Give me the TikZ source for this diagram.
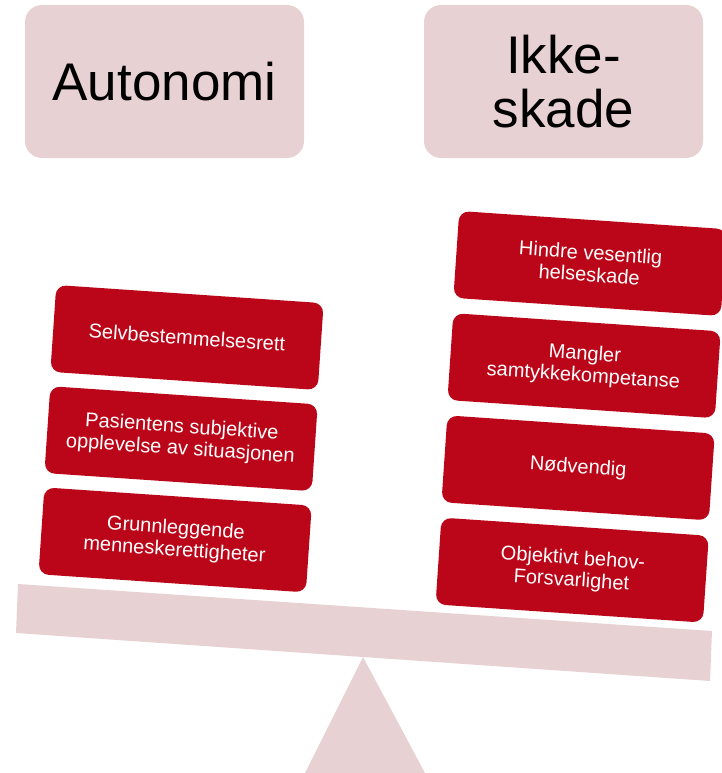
\documentclass[tikz,border=0pt]{standalone}
\usepackage{fontspec}
\setmainfont{Liberation Sans}
\usepackage{xcolor}
\usepackage{tikz}
\usetikzlibrary{positioning}

\definecolor{scalepink}{HTML}{E8D1D2}
\definecolor{scalered}{HTML}{BA0618}

\begin{document}
\begin{tikzpicture}[x=1pt, y=-1pt,
    headbox/.style={fill=scalepink, rounded corners=17pt,
      minimum width=279pt, minimum height=153pt, inner sep=0pt,
      align=center, font=\fontsize{53}{54}\selectfont},
    argbox/.style={fill=scalered, text=white, rounded corners=10pt,
      minimum width=268pt, minimum height=87pt, inner sep=0pt,
      align=center, rotate=-3.9, font=\fontsize{20}{22}\selectfont}]
  \useasboundingbox (0,0) rectangle (721,773);

  % vekt
  \fill[scalepink] (18,584) -- (712,631) -- (710,681) -- (16,633) -- cycle;
  \fill[scalepink] (363,657) -- (425,773) -- (305,773) -- cycle;

  \node(auto)[headbox] at (164.5,81.5) {Autonomi};
  \node(ikke)[headbox] at (563.5,81.5) {Ikke-\\skade};

  % venstre side
  \node(l1)[argbox] at (187,337.5) {Selvbestemmelsesrett};
  \node(l2)[argbox, below=14pt of l1]
  {Pasientens subjektive\\opplevelse av situasjonen};
  \node(l3)[argbox, below=14pt of l2]
  {Grunnleggende\\menneskerettigheter};

  % hoyre side
  \node(r1)[argbox] at (590,263.5) {Hindre vesentlig\\helseskade};
  \node(r2)[argbox, below=15pt of r1]
  {Mangler\\samtykkekompetanse};
  \node(r3)[argbox, below=15pt of r2] {Nødvendig};
  \node(r4)[argbox, below=15pt of r3]
  {Objektivt behov-\\Forsvarlighet};

\end{tikzpicture}
\end{document}
